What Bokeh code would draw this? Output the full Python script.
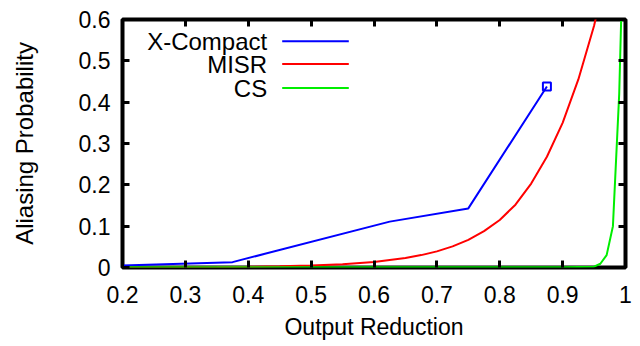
from bokeh.plotting import figure
from bokeh.models import Range1d, LinearAxis, FixedTicker, Label
from bokeh.embed import file_html
from bokeh.resources import INLINE

# ---- data ----
xcompact_x = [0.125, 0.375, 0.625, 0.75, 0.875]
xcompact_y = [0.0016, 0.013, 0.111, 0.143, 0.438]

misr_x = [0.20, 0.30, 0.35, 0.40, 0.45, 0.50, 0.55, 0.60, 0.65, 0.675, 0.70, 0.725,
          0.75, 0.775, 0.80, 0.825, 0.85, 0.875, 0.90, 0.925, 0.95, 0.96]
misr_y = [0.0002, 0.0006, 0.001, 0.0017, 0.0029, 0.0048, 0.008, 0.0135, 0.023, 0.030,
          0.039, 0.051, 0.067, 0.088, 0.115, 0.152, 0.203, 0.268, 0.35, 0.455, 0.585, 0.65]

cs_x = [0.20, 0.30, 0.40, 0.50, 0.60, 0.70, 0.80, 0.90, 0.95, 0.96, 0.97, 0.98, 0.99, 1.0]
cs_y = [0.0005, 0.0005, 0.0005, 0.0005, 0.0005, 0.0005, 0.0005, 0.0005, 0.002,
        0.009, 0.03, 0.1, 0.42, 1.0]

series_names = ["X-Compact", "MISR", "CS"]
series_colors = ["#0000ff", "#ff0000", "#00ee00"]

x_ticks = [0.2, 0.3, 0.4, 0.5, 0.6, 0.7, 0.8, 0.9, 1.0]
x_tick_labels = ["0.2", "0.3", "0.4", "0.5", "0.6", "0.7", "0.8", "0.9", "1"]
y_ticks = [0.0, 0.1, 0.2, 0.3, 0.4, 0.5, 0.6]
y_tick_labels = ["0", "0.1", "0.2", "0.3", "0.4", "0.5", "0.6"]

x_title = "Output Reduction"
y_title = "Aliasing Probability"

# ---- layout constants ----
FONT = "Liberation Sans"
W, H = 640, 346
ML, MR, MT, MB = 122, 15, 19, 79
FW, FH = W - ML - MR, H - MT - MB

p = figure(width=W, height=H, x_range=Range1d(0.2, 1.0), y_range=Range1d(0, 0.6),
           output_backend="svg", toolbar_location=None,
           min_border_left=ML, min_border_right=MR, min_border_top=MT, min_border_bottom=MB)
p.xgrid.visible = False
p.ygrid.visible = False
p.outline_line_color = "black"
p.outline_line_width = 4
p.outline_line_alpha = 1.0
p.background_fill_color = "white"
p.border_fill_color = "white"

p.extra_x_ranges = {"px": Range1d(0, FW)}
p.extra_y_ranges = {"px": Range1d(0, FH)}


def style_axis(ax, ticks, labels, show_labels):
    ax.ticker = FixedTicker(ticks=ticks)
    ax.major_tick_in = 7
    ax.major_tick_out = 0
    ax.major_tick_line_width = 3
    ax.major_tick_line_color = "black"
    ax.minor_tick_line_color = None
    ax.axis_line_color = None
    if show_labels:
        ax.major_label_overrides = dict(zip(ticks, labels))
        ax.major_label_text_font = FONT
        ax.major_label_text_font_size = "23px"
        ax.major_label_text_color = "black"
    else:
        ax.major_label_overrides = {t: "" for t in ticks}
        ax.major_label_text_font_size = "0px"
        ax.major_label_standoff = 0


xa = p.xaxis[0]
style_axis(xa, x_ticks, x_tick_labels, True)
xa.major_label_standoff = 18
xa.axis_label = x_title
xa.axis_label_text_font = FONT
xa.axis_label_text_font_size = "23px"
xa.axis_label_text_font_style = "normal"
xa.axis_label_text_color = "black"
xa.axis_label_standoff = 8

ya = p.yaxis[0]
style_axis(ya, y_ticks, y_tick_labels, True)
ya.major_label_standoff = 12
ya.axis_label = y_title
ya.axis_label_text_font = FONT
ya.axis_label_text_font_size = "24px"
ya.axis_label_text_font_style = "normal"
ya.axis_label_text_color = "black"
ya.axis_label_standoff = 38

top = LinearAxis()
style_axis(top, x_ticks, x_tick_labels, False)
p.add_layout(top, "above")
right = LinearAxis()
style_axis(right, y_ticks, y_tick_labels, False)
p.add_layout(right, "right")

# ---- data lines ----
p.line(xcompact_x, xcompact_y, line_color=series_colors[0], line_width=2)
p.scatter(xcompact_x[-1:], xcompact_y[-1:], marker="square", size=8,
          fill_color=None, line_color=series_colors[0], line_width=2)
p.line(misr_x, misr_y, line_color=series_colors[1], line_width=2)
p.line(cs_x, cs_y, line_color=series_colors[2], line_width=2)

# ---- gnuplot-style key (text right-aligned, sample line to the right) ----
key_text_x = 144.7
key_line_x0, key_line_x1 = 159.7, 226.3
key_rows = [226.2, 203.5, 179.5]
for name, col, ry in zip(series_names, series_colors, key_rows):
    p.add_layout(Label(x=key_text_x, y=ry, x_range_name="px", y_range_name="px",
                       text=name, text_align="right", text_baseline="middle",
                       text_font=FONT, text_font_size="24px", text_color="black"))
p.segment(x0=[key_line_x0] * 3, y0=key_rows, x1=[key_line_x1] * 3, y1=key_rows,
          line_color=series_colors, line_width=2, x_range_name="px", y_range_name="px")

open("out.html", "w").write(file_html(p, INLINE))
